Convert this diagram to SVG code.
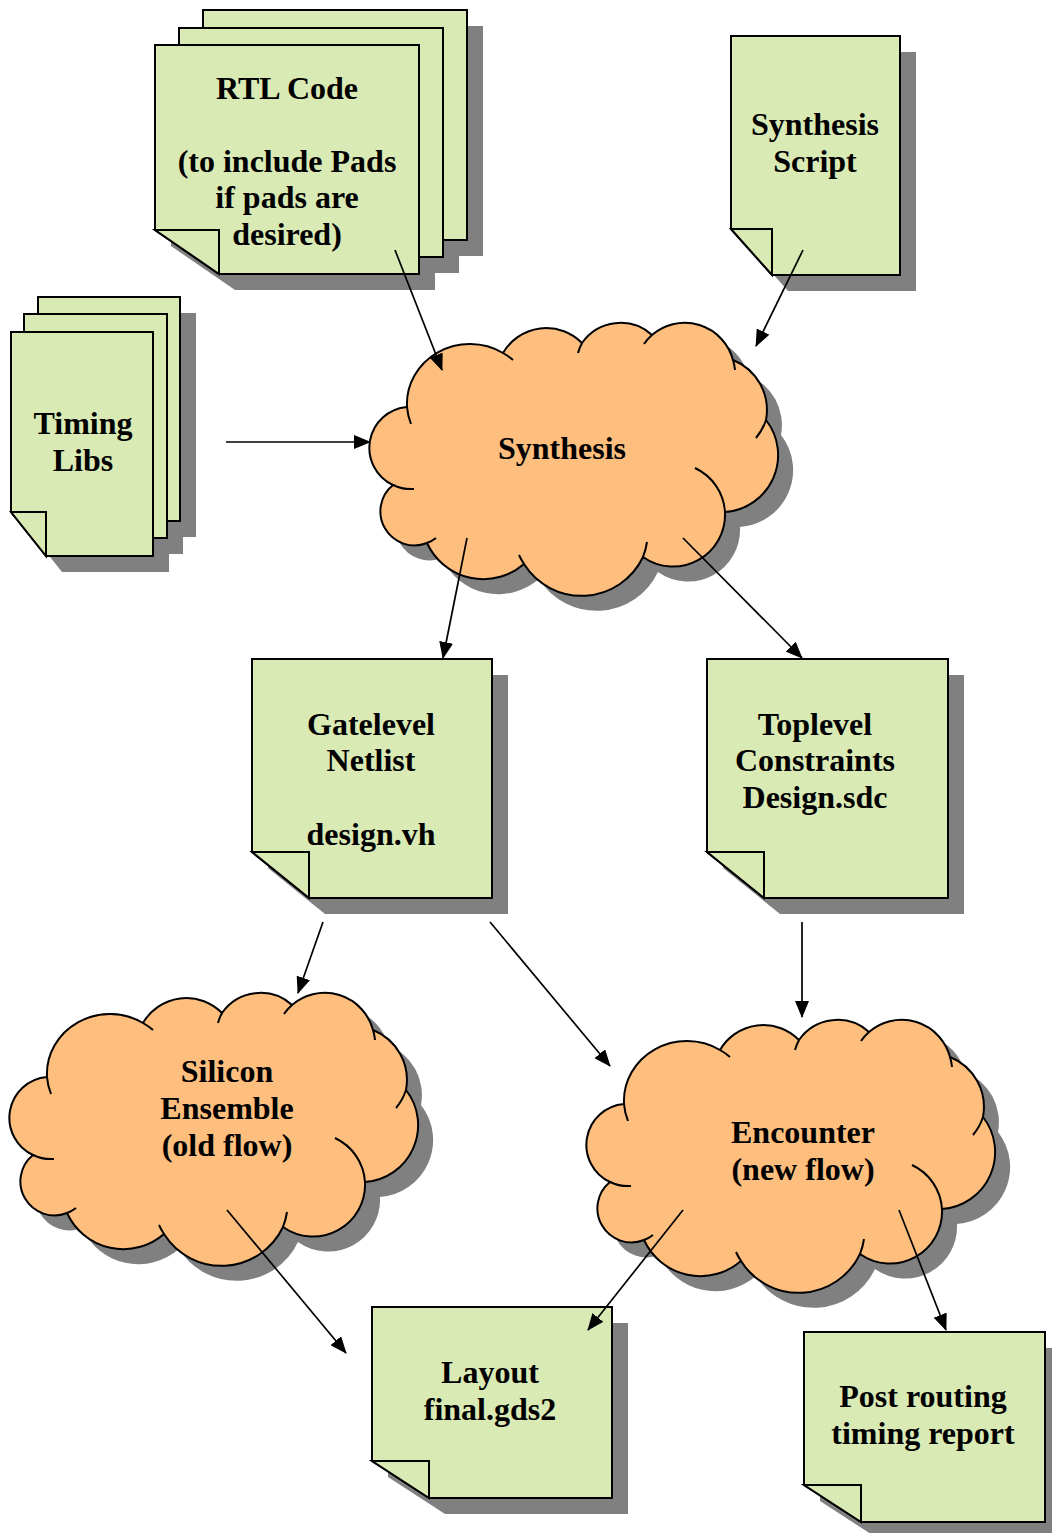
<svg xmlns="http://www.w3.org/2000/svg" xmlns:xlink="http://www.w3.org/1999/xlink" width="1052" height="1533" viewBox="0 0 1052 1533">
<style>
.pg{fill:#d9eab4;stroke:#000;stroke-width:2;stroke-linejoin:miter}
.sh{fill:#808080;stroke:none}
.cl{fill:#fdbe7e;stroke:#000;stroke-width:2}
.tl{fill:none;stroke:#000;stroke-width:2}
.lbl{font-family:"Liberation Serif","Times New Roman",serif;font-weight:bold;font-size:32px;text-anchor:middle;fill:#000}
.cn{stroke:#000;stroke-width:1.7;fill:none;marker-end:url(#ah)}
</style>
<defs>
<marker id="ah" markerWidth="17" markerHeight="14" refX="16" refY="7" orient="auto" markerUnits="userSpaceOnUse">
<path d="M0,0 L17,7 L0,14 Z" fill="#000"/>
</marker>
<path id="cloud" d="M37,85 A63,60 0 0 1 133,31 A50,50 0 0 1 212,21 A47,47 0 0 1 282,13 A50,50 0 0 1 363,38 A54,54 0 0 1 396,98 A57,57 0 0 1 355,190 A52,52 0 0 1 273,235 A68,68 0 0 1 154,242 A62,62 0 0 1 57,221 A34,34 0 0 1 23,163 A41,41 0 0 1 37,85 Z"/>
<path id="tails" d="M37,85 A63,60 0 0 0 41,102 M133,31 A63,60 0 0 1 143,38 M212,21 A47,47 0 0 0 208,31 M282,13 A50,50 0 0 0 274,22 M363,38 A50,50 0 0 1 365,48 M396,98 A54,54 0 0 1 386,116 M355,190 A52,52 0 0 0 325,146 M273,235 A68,68 0 0 0 277,220 M154,242 A68,68 0 0 1 149,233 M57,221 A34,34 0 0 0 66,216 M23,163 A41,41 0 0 0 44,167"/>
</defs>

<g id="rtl-code">
<path class="sh" d="M219,26 H483 V256 H283 L219,212 Z"/>
<path class="sh" d="M195,44 H459 V273 H259 L195,229 Z"/>
<path class="sh" d="M171,61 H435 V290 H235 L171,246 Z"/>
<path class="pg" d="M203,10 H467 V240 H267 L203,196 Z"/>
<path class="pg" d="M179,28 H443 V257 H243 L179,213 Z"/>
<path class="pg" d="M155,45 H419 V274 H219 L155,230 Z"/>
<path class="pg" d="M155,230 H219 V274 Z"/>
<text class="lbl" x="287" y="99">RTL Code</text>
<text class="lbl" x="287" y="172">(to include Pads</text>
<text class="lbl" x="287" y="208">if pads are</text>
<text class="lbl" x="287" y="245">desired)</text>
</g>

<g id="synthesis-script">
<path class="sh" d="M747,52 H916 V291 H788 L747,245 Z"/>
<path class="pg" d="M731,36 H900 V275 H772 L731,229 Z"/>
<path class="pg" d="M731,229 H772 V275 Z"/>
<text class="lbl" x="815" y="135">Synthesis</text>
<text class="lbl" x="815" y="172">Script</text>
</g>

<g id="timing-libs">
<path class="sh" d="M54,313 H196 V537 H89 L54,493 Z"/>
<path class="sh" d="M40,330 H183 V554 H75 L40,510 Z"/>
<path class="sh" d="M27,348 H169 V572 H62 L27,528 Z"/>
<path class="pg" d="M38,297 H180 V521 H73 L38,477 Z"/>
<path class="pg" d="M24,314 H167 V538 H59 L24,494 Z"/>
<path class="pg" d="M11,332 H153 V556 H46 L11,512 Z"/>
<path class="pg" d="M11,512 H46 V556 Z"/>
<text class="lbl" x="83" y="434">Timing</text>
<text class="lbl" x="83" y="471">Libs</text>
</g>

<g id="synthesis">
<use xlink:href="#cloud" class="sh" x="385" y="337"/>
<use xlink:href="#cloud" class="cl" x="370" y="322"/>
<use xlink:href="#tails" class="tl" x="370" y="322"/>
<text class="lbl" x="562" y="459">Synthesis</text>
</g>

<g id="gatelevel-netlist">
<path class="sh" d="M268,675 H508 V914 H325 L268,868 Z"/>
<path class="pg" d="M252,659 H492 V898 H309 L252,852 Z"/>
<path class="pg" d="M252,852 H309 V898 Z"/>
<text class="lbl" x="371" y="735">Gatelevel</text>
<text class="lbl" x="371" y="771">Netlist</text>
<text class="lbl" x="371" y="845">design.vh</text>
</g>

<g id="toplevel-constraints">
<path class="sh" d="M723,675 H964 V914 H780 L723,868 Z"/>
<path class="pg" d="M707,659 H948 V898 H764 L707,852 Z"/>
<path class="pg" d="M707,852 H764 V898 Z"/>
<text class="lbl" x="815" y="735">Toplevel</text>
<text class="lbl" x="815" y="771">Constraints</text>
<text class="lbl" x="815" y="808">Design.sdc</text>
</g>

<g id="silicon-ensemble">
<use xlink:href="#cloud" class="sh" x="25" y="1007"/>
<use xlink:href="#cloud" class="cl" x="10" y="992"/>
<use xlink:href="#tails" class="tl" x="10" y="992"/>
<text class="lbl" x="227" y="1082">Silicon</text>
<text class="lbl" x="227" y="1119">Ensemble</text>
<text class="lbl" x="227" y="1156">(old flow)</text>
</g>

<g id="encounter">
<use xlink:href="#cloud" class="sh" x="602" y="1034"/>
<use xlink:href="#cloud" class="cl" x="587" y="1019"/>
<use xlink:href="#tails" class="tl" x="587" y="1019"/>
<text class="lbl" x="803" y="1143">Encounter</text>
<text class="lbl" x="803" y="1180">(new flow)</text>
</g>

<g id="layout">
<path class="sh" d="M388,1323 H628 V1514 H445 L388,1477 Z"/>
<path class="pg" d="M372,1307 H612 V1498 H429 L372,1461 Z"/>
<path class="pg" d="M372,1461 H429 V1498 Z"/>
<text class="lbl" x="490" y="1383">Layout</text>
<text class="lbl" x="490" y="1420">final.gds2</text>
</g>

<g id="post-routing">
<path class="sh" d="M820,1348 H1061 V1538 H877 L820,1501 Z"/>
<path class="pg" d="M804,1332 H1045 V1522 H861 L804,1485 Z"/>
<path class="pg" d="M804,1485 H861 V1522 Z"/>
<text class="lbl" x="923" y="1407">Post routing</text>
<text class="lbl" x="923" y="1444">timing report</text>
</g>

<g id="connectors">
<line class="cn" x1="395" y1="250" x2="442" y2="370"/>
<line class="cn" x1="803" y1="250" x2="756" y2="346"/>
<line class="cn" x1="226" y1="442" x2="370" y2="442"/>
<line class="cn" x1="467" y1="538" x2="443" y2="658"/>
<line class="cn" x1="683" y1="538" x2="802" y2="658"/>
<line class="cn" x1="323" y1="922" x2="298" y2="993"/>
<line class="cn" x1="490" y1="922" x2="610" y2="1066"/>
<line class="cn" x1="802" y1="922" x2="802" y2="1017"/>
<line class="cn" x1="227" y1="1210" x2="346" y2="1353"/>
<line class="cn" x1="683" y1="1210" x2="588" y2="1330"/>
<line class="cn" x1="899" y1="1210" x2="946" y2="1330"/>
</g>
</svg>
